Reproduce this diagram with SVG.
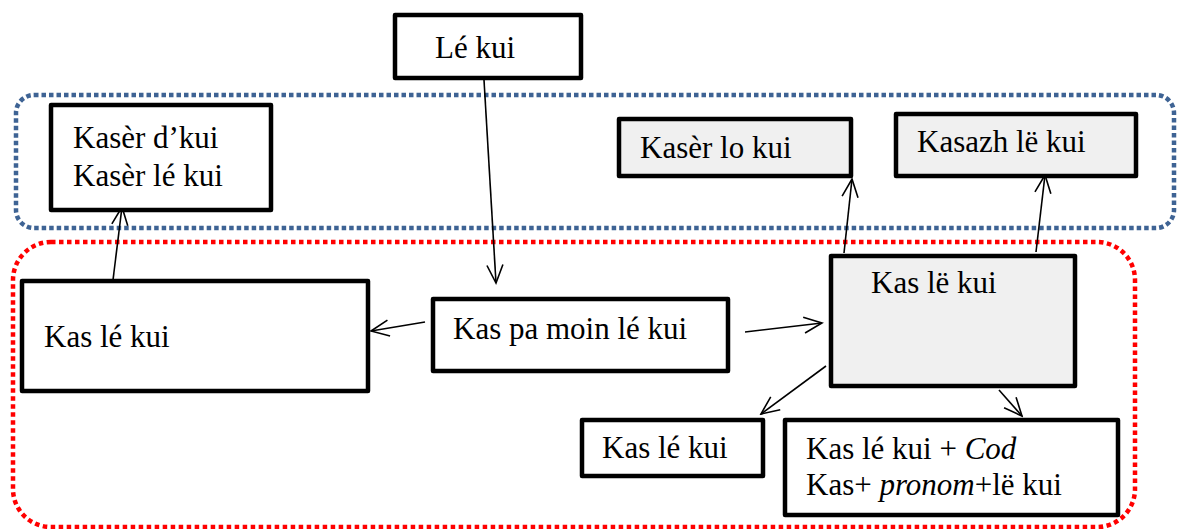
<svg xmlns="http://www.w3.org/2000/svg" width="1177" height="529" viewBox="0 0 1177 529">
<defs>
<style>
.box{fill:#ffffff;stroke:#000;stroke-width:4.5;stroke-linejoin:round}
.gray{fill:#f0f0f0}
text{font-family:'Liberation Serif','Tinos','Times New Roman','DejaVu Serif',serif;font-size:31px;fill:#000}
.c{stroke:#000;stroke-width:1.6;fill:none}
</style>
<marker id="ah" viewBox="-20 -10 22 20" refX="0" refY="0" markerUnits="userSpaceOnUse" markerWidth="22" markerHeight="20" orient="auto">
<path d="M-18,-8 L0,0 L-18,8" fill="none" stroke="#000" stroke-width="1.6"/>
</marker>
</defs>
<rect width="1177" height="529" fill="#fff"/>
<g id="groups">
<rect x="16" y="95" width="1158" height="133" rx="18" ry="18" fill="none" stroke="#3e6394" stroke-width="4.5" stroke-dasharray="4.5 3"/>
<rect x="13" y="242" width="1122" height="285" rx="38" ry="38" fill="none" stroke="#ff0000" stroke-width="4.5" stroke-dasharray="4.5 3.5"/>
</g>
<g id="connectors">
<line class="c" x1="484" y1="80" x2="496" y2="283" marker-end="url(#ah)"/>
<line class="c" x1="425" y1="322" x2="371" y2="331" marker-end="url(#ah)"/>
<line class="c" x1="113" y1="280" x2="122" y2="207" marker-end="url(#ah)"/>
<line class="c" x1="745" y1="332" x2="822" y2="323" marker-end="url(#ah)"/>
<line class="c" x1="844" y1="253" x2="852" y2="179" marker-end="url(#ah)"/>
<line class="c" x1="1036" y1="252" x2="1045" y2="175" marker-end="url(#ah)"/>
<line class="c" x1="826" y1="366" x2="761" y2="414" marker-end="url(#ah)"/>
<line class="c" x1="999" y1="390" x2="1022" y2="416" marker-end="url(#ah)"/>
</g>
<g id="n-le-kui">
<rect class="box" x="395" y="15" width="186" height="63"/>
<text x="435" y="58">Lé kui</text>
</g>
<g id="n-kaser-dkui">
<rect class="box" x="51" y="105" width="220" height="105"/>
<text x="73" y="148">Kasèr d’kui</text>
<text x="73" y="186">Kasèr lé kui</text>
</g>
<g id="n-kaser-lo-kui">
<rect class="box gray" x="619" y="119" width="232" height="57"/>
<text x="640" y="158">Kasèr lo kui</text>
</g>
<g id="n-kasazh">
<rect class="box gray" x="896" y="114" width="240" height="62"/>
<text x="917" y="152">Kasazh lë kui</text>
</g>
<g id="n-kas-le-kui-left">
<rect class="box" x="22" y="281" width="346" height="110"/>
<text x="44" y="347">Kas lé kui</text>
</g>
<g id="n-kas-pa-moin">
<rect class="box" x="433" y="299" width="295" height="72"/>
<text x="453" y="339">Kas pa moin lé kui</text>
</g>
<g id="n-kas-le-kui-gray">
<rect class="box gray" x="831" y="256" width="244" height="130"/>
<text x="871" y="293">Kas lë kui</text>
</g>
<g id="n-kas-le-kui-small">
<rect class="box" x="582" y="420" width="181" height="56"/>
<text x="602" y="458">Kas lé kui</text>
</g>
<g id="n-kas-cod">
<rect class="box" x="785" y="420" width="333" height="95"/>
<text x="806" y="459">Kas lé kui + <tspan font-style="italic">Cod</tspan></text>
<text x="806" y="495">Kas+ <tspan font-style="italic">pronom</tspan>+lë kui</text>
</g>
</svg>
